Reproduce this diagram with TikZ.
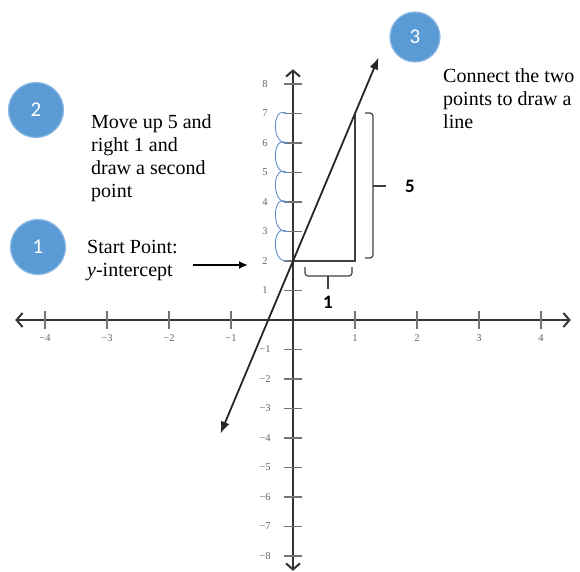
\documentclass[tikz,border=0pt]{standalone}
\usepackage{fontspec}
\setmainfont{Liberation Serif}
\newfontfamily\calib{Carlito}
\usetikzlibrary{arrows.meta}
\definecolor{stepblue}{HTML}{5B9BD5}
\definecolor{stepring}{HTML}{8CB9E4}
\definecolor{loopblue}{HTML}{5D8FC9}
\tikzset{
  % numbered circles and the notes beside them
  stepcircle/.style={circle, fill=stepblue, draw=stepring, line width=1.2pt,
    text=white, font=\calib\fontsize{21}{21}\selectfont, minimum size=#1, inner sep=0pt},
  note/.style={anchor=north west, inner sep=0pt, align=left,
    font=\fontsize{20}{23.3}\selectfont},
  % axes of the grid
  axis/.style={line width=2pt, black!80,
    {Straight Barb[length=6pt,width=14pt]}-{Straight Barb[length=6pt,width=14pt]}},
  axistick/.style={line width=1.4pt, black!55},
  ticklabel/.style={font=\fontsize{10.5}{10.5}\selectfont, text=black!60},
  bracket/.style={line width=1.2pt, black!75, rounded corners=3pt},
  boldlabel/.style={font=\calib\bfseries\fontsize{19}{19}\selectfont},
}
\begin{document}
\begin{tikzpicture}[x=1pt,y=-1pt]
\useasboundingbox (0,0) rectangle (580,571);
\node[stepcircle=55pt] (numtwo) at (36,110) {2};
\node[stepcircle=55pt] (numone) at (38,247) {1};
\node[stepcircle=50pt] (numthree) at (415,37) {3};
\node[note] (movetext) at (91,114) {Move up 5 and\\right 1 and\\draw a second\\point};
\node[note] (starttext) at (87,240) {Start Point:\\\textit{y}-intercept};
\node[note] (connecttext) at (443,68) {Connect the two\\points to draw a\\line};

\begin{scope}[shift={(293,320)}, x=62pt, y=29.5pt]
  \draw[axis] (-4.48,0) -- (4.48,0);
  \draw[axis] (0,-8.5) -- (0,8.5);
  \foreach \i in {-4,-3,-2,-1,1,2,3,4} {
    \draw[axistick] (\i,-0.3) -- (\i,0.3);
    \node[ticklabel] at (\i,-0.6) {\ifnum\i<0 −\number-\i\else\i\fi};
  }
  \foreach \j in {-8,-7,-6,-5,-4,-3,-2,-1,1,2,3,4,5,6,7,8} {
    \draw[axistick] (-0.15,\j) -- (0.15,\j);
    \node[ticklabel] at (-0.45,\j) {\ifnum\j<0 −\number-\j\else\j\fi};
  }
  \coordinate (yint) at (0,2);
  \coordinate (second) at (1,7);
  \coordinate (corner) at (1,2);
  \coordinate (linelow) at (-1.17,-3.85);
  \coordinate (linehigh) at (1.38,8.9);
  % counting up five
  \foreach \k in {2,...,6}
    \draw[loopblue, line width=0.9pt] (-0.1,\k+1) .. controls (-0.34,\k+1.3) and (-0.36,\k-0.1) .. (-0.08,\k);
  \draw[line width=2pt, black!75] (yint) -- (corner) -- (second);
  \draw[line width=1.8pt, black!85, {Latex[length=12pt,width=9pt]}-{Latex[length=12pt,width=9pt]}] (linelow) -- (linehigh);
\end{scope}

\coordinate (arrowtail) at (193,265);
\coordinate (arrowhead) at (248,265);
\draw[line width=1.8pt, -{Latex[length=9pt,width=8pt]}] (arrowtail) -- (arrowhead);
% run and rise
\draw[bracket] (305,267) -- (305,276) -- (352,276) -- (352,267);
\draw[bracket] (328,276) -- (328,289);
\node[boldlabel] (onelabel) at (328,302) {1};
\draw[bracket] (365,113) -- (373,113) -- (373,258) -- (365,258);
\draw[bracket] (373,186) -- (386,186);
\node[boldlabel] (fivelabel) at (410,186) {5};
\end{tikzpicture}
\end{document}
